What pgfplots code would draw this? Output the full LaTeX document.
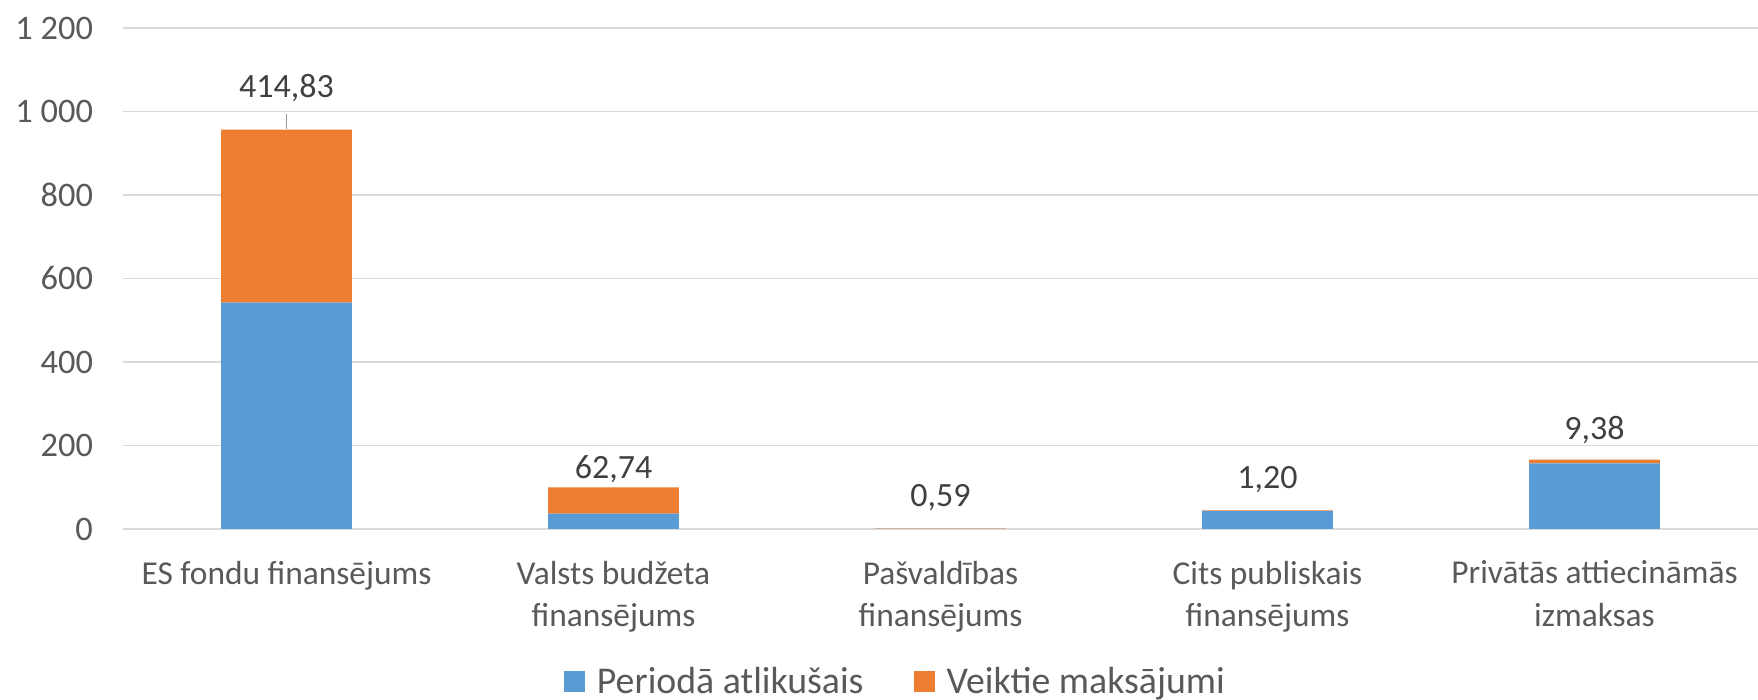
\documentclass[border=0pt]{standalone}
\usepackage{fontspec}
\setmainfont{Carlito}
\usepackage{pgfplots}
\pgfplotsset{compat=1.18}
\usepackage{pgfplotstable}
\definecolor{cblue}{HTML}{5B9BD5}
\definecolor{corange}{HTML}{ED7D31}
\definecolor{ctext}{HTML}{595959}
\definecolor{cgrid}{HTML}{D9D9D9}
\definecolor{clabel}{HTML}{404040}

\pgfplotstableread{
x y
0 542.0
1 37.0
2 0.4
3 43.4
4 157.0
}\blueseries

\pgfplotstableread{
x y lab
0 414.83 {}
1 62.74 62,74
2 0.59 0,59
3 1.20 1,20
4 9.38 9,38
}\orangeseries

\begin{document}
\begin{tikzpicture}[font=\fontsize{17}{21.5}\selectfont]
\path[use as bounding box] (0,0) rectangle (879pt,350pt);
\begin{axis}[
  at={(61.5pt,85.5pt)}, anchor=south west,
  scale only axis, width=817.5pt, height=250.5pt,
  ybar stacked, bar width=0.4,
  xmin=-0.5, xmax=4.5, ymin=0, ymax=1200,
  clip=false,
  xtick={0,1,2,3,4},
  xticklabels={ES fondu finansējums, Valsts budžeta\\finansējums, Pašvaldības\\finansējums, Cits publiskais\\finansējums, Privātās attiecināmās\\izmaksas},
  ytick={0,200,400,600,800,1000,1200},
  /pgf/number format/assume math mode=true,
  /pgf/number format/1000 sep={\ },
  axis line style={draw=none},
  major tick length=0pt,
  ymajorgrids, grid style={cgrid, line width=0.8pt},
  tick label style={text=ctext},
  yticklabel style={xshift=-11.5pt, font=\fontsize{17.2}{21.5}\selectfont},
  xticklabel style={align=center, anchor=north, yshift=-12.4pt, font=\fontsize{16.7}{21.2}\selectfont},
  legend style={at={(0.473,-0.305)}, anchor=center, draw=none, fill=none,
    legend columns=-1, font=\fontsize{18.9}{22}\selectfont, text=ctext,
    /tikz/every even column/.append style={column sep=23pt},
    /tikz/every odd column/.append style={column sep=4pt},
    legend cell align=left},
  legend image code/.code={\fill[#1] (0pt,-5.25pt) rectangle (10.5pt,5.25pt);},
]
\addplot[fill=cblue, draw=none] table[x=x,y=y]{\blueseries};
\addplot[fill=corange, draw=none, nodes near coords, point meta=explicit symbolic,
  every node near coord/.style={font=\fontsize{17}{21.5}\selectfont, text=clabel, anchor=south, yshift=5.5pt}]
  table[x=x,y=y,meta=lab]{\orangeseries};
\legend{Periodā atlikušais, Veiktie maksājumi}
\draw[color=gray!80, line width=0.7pt] (axis cs:0,957) -- (axis cs:0,995);
\node[text=clabel, font=\fontsize{17}{21.5}\selectfont] at (axis cs:0,1055) {414,83};
\end{axis}
\end{tikzpicture}
\end{document}
